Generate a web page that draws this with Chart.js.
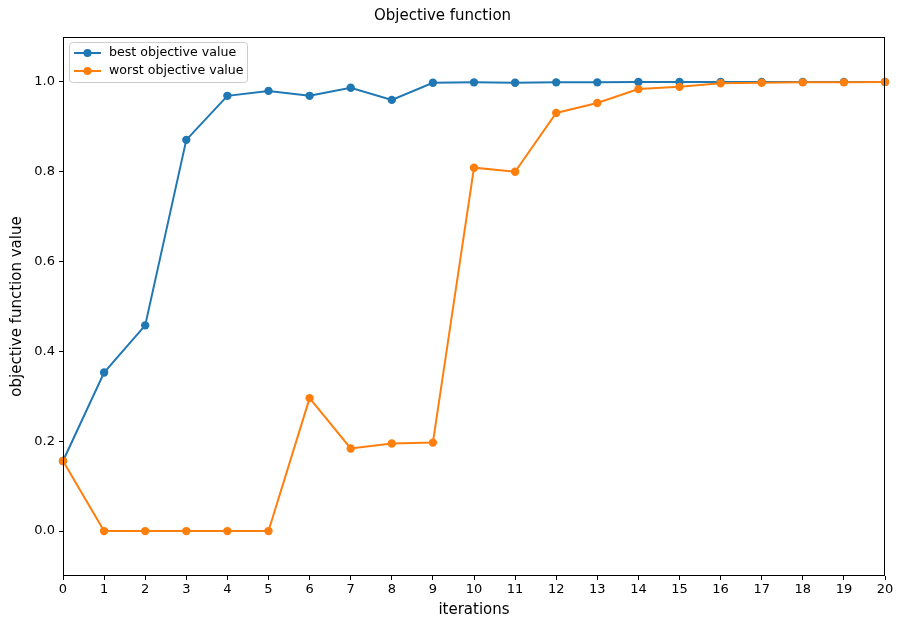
<!DOCTYPE html>
<html lang="en">
<head>
    <meta charset="UTF-8">
    <title>Objective function</title>
    <script src="https://cdn.jsdelivr.net/npm/chart.js"></script>
    <style>
        body { margin: 0; padding: 0; background: #fff; }
        #wrap { width: 900px; height: 619px; }
    </style>
</head>
<body>
    <div id="wrap"><canvas id="objChart" width="900" height="619"></canvas></div>
    <script>
        // data
        const iterations = [0, 1, 2, 3, 4, 5, 6, 7, 8, 9, 10, 11, 12, 13, 14, 15, 16, 17, 18, 19, 20];
        const bestValues = [0.156, 0.353, 0.458, 0.871, 0.969, 0.980, 0.969, 0.987, 0.960, 0.998, 0.999, 0.998, 0.999, 0.999, 1.0, 1.0, 1.0, 1.0, 1.0, 1.0, 1.0];
        const worstValues = [0.156, 0.0, 0.0, 0.0, 0.0, 0.0, 0.296, 0.184, 0.195, 0.197, 0.809, 0.800, 0.931, 0.953, 0.984, 0.989, 0.997, 0.998, 0.999, 0.999, 1.0];
        const yTicks = [0.0, 0.2, 0.4, 0.6, 0.8, 1.0];

        const FONT = "'DejaVu Sans', sans-serif";
        const blue = '#1f77b4';
        const orange = '#ff7f0e';

        // frame on all four sides + legend inside the plot
        const framePlugin = {
            id: 'frame',
            afterDraw(chart) {
                const ctx = chart.ctx;
                const a = chart.chartArea;
                ctx.save();
                ctx.strokeStyle = '#000';
                ctx.lineWidth = 1;
                ctx.strokeRect(a.left + 0.5, a.top + 0.5, a.right - a.left - 1, a.bottom - a.top - 1);

                // legend box
                const lx = a.left + 6, ly = a.top + 5, lw = 178, lh = 40;
                ctx.fillStyle = 'rgba(255,255,255,0.8)';
                ctx.strokeStyle = '#cccccc';
                ctx.beginPath();
                ctx.roundRect(lx + 0.5, ly + 0.5, lw, lh, 3);
                ctx.fill();
                ctx.stroke();
                ctx.font = '12.6px ' + FONT;
                ctx.textBaseline = 'middle';
                chart.data.datasets.forEach((ds, i) => {
                    const y = ly + 11 + i * 18;
                    ctx.strokeStyle = ds.borderColor;
                    ctx.lineWidth = 2;
                    ctx.beginPath();
                    ctx.moveTo(lx + 5, y);
                    ctx.lineTo(lx + 32, y);
                    ctx.stroke();
                    ctx.fillStyle = ds.backgroundColor;
                    ctx.beginPath();
                    ctx.arc(lx + 18.5, y, 4, 0, Math.PI * 2);
                    ctx.fill();
                    ctx.fillStyle = '#000';
                    ctx.fillText(ds.label, lx + 40, y);
                });
                ctx.restore();
            }
        };

        const ctx = document.getElementById('objChart').getContext('2d');
        new Chart(ctx, {
            type: 'line',
            data: {
                labels: iterations,
                datasets: [{
                    label: 'best objective value',
                    data: iterations.map((x, i) => ({ x: x, y: bestValues[i] })),
                    borderColor: blue,
                    backgroundColor: blue,
                    borderWidth: 2,
                    pointRadius: 4.2,
                    pointHoverRadius: 4.2,
                    pointBorderWidth: 0,
                    tension: 0,
                    order: 1
                }, {
                    label: 'worst objective value',
                    data: iterations.map((x, i) => ({ x: x, y: worstValues[i] })),
                    borderColor: orange,
                    backgroundColor: orange,
                    borderWidth: 2,
                    pointRadius: 4.2,
                    pointHoverRadius: 4.2,
                    pointBorderWidth: 0,
                    tension: 0,
                    order: 0
                }]
            },
            options: {
                responsive: false,
                animation: false,
                clip: false,
                layout: { padding: { left: 0, right: 15, top: 0, bottom: 0 } },
                plugins: {
                    legend: { display: false },
                    tooltip: { enabled: false },
                    title: {
                        display: true,
                        text: 'Objective function',
                        color: '#000',
                        font: { family: FONT, size: 15, weight: 'normal' },
                        padding: { top: 7, bottom: 12 }
                    }
                },
                scales: {
                    x: {
                        type: 'linear',
                        min: 0,
                        max: 20,
                        afterFit(scale) { scale.height = 43; },
                        ticks: {
                            stepSize: 1,
                            color: '#000',
                            font: { family: FONT, size: 13 },
                            padding: 2,
                            maxRotation: 0,
                            autoSkip: false
                        },
                        grid: {
                            drawOnChartArea: false,
                            drawTicks: true,
                            tickLength: 4,
                            color: '#000'
                        },
                        border: { display: false },
                        title: {
                            display: true,
                            text: 'iterations',
                            color: '#000',
                            font: { family: FONT, size: 15 },
                            padding: { top: 2, bottom: 0 }
                        }
                    },
                    y: {
                        type: 'linear',
                        min: -0.1,
                        max: 1.1,
                        afterFit(scale) { scale.width = 63; },
                        afterBuildTicks(scale) {
                            scale.ticks = yTicks.map(v => ({ value: v }));
                        },
                        ticks: {
                            color: '#000',
                            font: { family: FONT, size: 13 },
                            padding: 4,
                            callback: v => v.toFixed(1)
                        },
                        grid: {
                            drawOnChartArea: false,
                            drawTicks: true,
                            tickLength: 4,
                            color: '#000'
                        },
                        border: { display: false },
                        title: {
                            display: true,
                            text: 'objective function value',
                            color: '#000',
                            font: { family: FONT, size: 15 },
                            padding: { top: 8, bottom: 0 }
                        }
                    }
                }
            },
            plugins: [framePlugin]
        });
    </script>
</body>
</html>
